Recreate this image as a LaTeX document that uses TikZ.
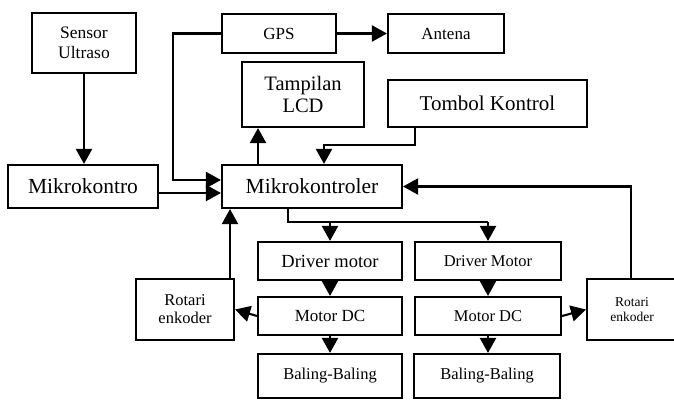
\documentclass[tikz,border=0pt]{standalone}
\usepackage{fontspec}
\setmainfont{Liberation Serif}
\usetikzlibrary{arrows.meta}
\begin{document}
\begin{tikzpicture}[x=1pt,y=-1pt,
  blk/.style={draw,line width=2.1pt,inner sep=0pt,align=center},
  con/.style={line width=2.1pt,-{Triangle[length=15pt,width=16pt]}},
  ln/.style={line width=2.1pt}]
\useasboundingbox (0,0) rectangle (674,399);
\node[blk,minimum width=104pt,minimum height=60pt,font=\fontsize{17.5}{20}\selectfont] (sens) at (84,43) {Sensor\\Ultraso};
\node[blk,minimum width=114pt,minimum height=39pt,font=\fontsize{17}{18}\selectfont] (gps) at (279,33.5) {GPS};
\node[blk,minimum width=116pt,minimum height=39pt,font=\fontsize{17}{18}\selectfont] (ant) at (446,33.5) {Antena};
\node[blk,minimum width=122pt,minimum height=65pt,font=\fontsize{20.5}{22}\selectfont] (lcd) at (303,94.5) {Tampilan\\LCD};
\node[blk,minimum width=199pt,minimum height=47pt,font=\fontsize{21}{22}\selectfont] (tomb) at (487.5,103.5) {Tombol Kontrol};
\node[blk,minimum width=150pt,minimum height=43pt,font=\fontsize{21.5}{23}\selectfont] (mk) at (83,186.5) {Mikrokontro};
\node[blk,minimum width=180pt,minimum height=43pt,font=\fontsize{21.5}{23}\selectfont] (mcu) at (312,186.5) {Mikrokontroler};
\node[blk,minimum width=144pt,minimum height=38pt,font=\fontsize{18.5}{20}\selectfont] (drvL) at (330,261) {Driver motor};
\node[blk,minimum width=146pt,minimum height=38pt,font=\fontsize{16.5}{18}\selectfont] (drvR) at (488,261) {Driver Motor};
\node[blk,minimum width=144pt,minimum height=38pt,font=\fontsize{17}{18}\selectfont] (motL) at (330,316) {Motor DC};
\node[blk,minimum width=146pt,minimum height=38pt,font=\fontsize{16.5}{18}\selectfont] (motR) at (488,316) {Motor DC};
\node[blk,minimum width=144pt,minimum height=44pt,font=\fontsize{16.5}{18}\selectfont] (balL) at (330,376) {Baling-Baling};
\node[blk,minimum width=146pt,minimum height=44pt,font=\fontsize{16.5}{18}\selectfont] (balR) at (487,376) {Baling-Baling};
\node[blk,minimum width=98pt,minimum height=61pt,font=\fontsize{16.5}{18}\selectfont] (rotL) at (185,309.5) {Rotari\\enkoder};
\node[blk,minimum width=90pt,minimum height=61pt,font=\fontsize{13.5}{15}\selectfont] (rotR) at (632,309.5) {Rotari\\enkoder};
% connectors
\draw[con] (sens.south) -- (mk.north -| sens.south);
\draw[con] (gps.east) -- (ant.west);
\draw[con] (gps.west) -| (173,180) -- (mcu.west |- 0,180);
\draw[con] (mk.east |- 0,193) -- (mcu.west |- 0,193);
\draw[con] (mcu.north -| 258,0) -- (lcd.south -| 258,0);
\draw[con] (tomb.south -| 415,0) |- (324,145) -- (mcu.north -| 324,0);
\draw[con] (rotR.north -| 631,0) |- (mcu.east);
\draw[ln] (mcu.south -| 288,0) |- (488,222);
\draw[con] (330,222) -- (drvL.north);
\draw[con] (488,222) -- (drvR.north);
\draw[con] (drvL.south) -- (motL.north);
\draw[con] (drvR.south) -- (motR.north);
\draw[con] (motL.south) -- (balL.north -| motL.south);
\draw[con] (motR.south) -- (balR.north -| motR.south);
\draw[con] (motL.west) -- (rotL.east);
\draw[con] (motR.east) -- (rotR.west);
\draw[con] (rotL.north -| 230,0) -- (mcu.south -| 230,0);
\end{tikzpicture}
\end{document}
